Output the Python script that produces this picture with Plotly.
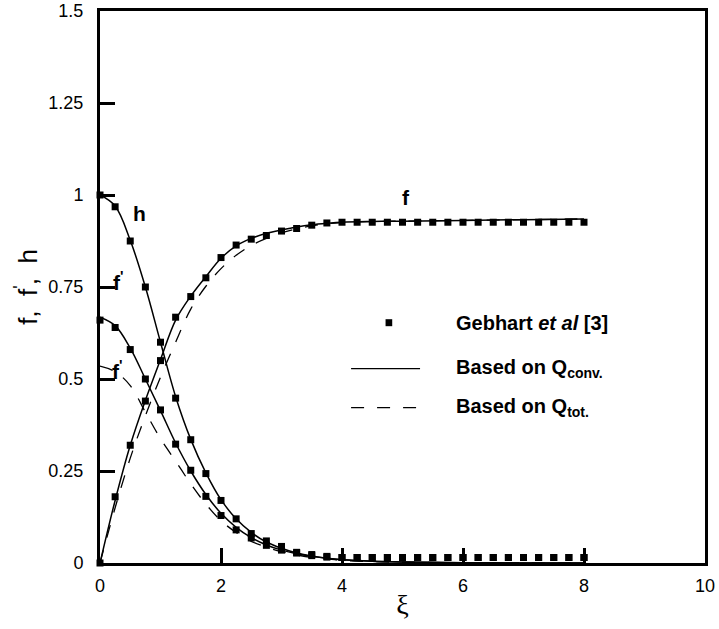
import plotly.graph_objects as go

# Gebhart et al. [3] data, sampled every 0.25 in xi
xi_exp = [i * 0.25 for i in range(33)]
f_exp = [0.0, 0.18, 0.32, 0.44, 0.55, 0.668, 0.724, 0.775, 0.83, 0.864, 0.88,
         0.89, 0.902, 0.909, 0.918, 0.924] + [0.926] * 17
fp_exp = [0.66, 0.64, 0.58, 0.50, 0.416, 0.323, 0.252, 0.181, 0.129, 0.09, 0.068,
          0.048, 0.035, 0.027, 0.02, 0.016] + [0.015] * 17
h_exp = [1.0, 0.968, 0.875, 0.75, 0.6, 0.448, 0.335, 0.243, 0.17, 0.12, 0.08,
         0.06, 0.045, 0.029, 0.023, 0.018] + [0.015] * 17

# Model solutions
xi_mod = [0, 0.25, 0.5, 0.75, 1.0, 1.25, 1.5, 1.75, 2.0, 2.25, 2.5, 2.75, 3.0,
          3.25, 3.5, 3.75, 4.0, 4.5, 5.0, 6.0, 7.0, 8.0]
# based on Q_conv.
f_conv = [0.0, 0.17, 0.32, 0.442, 0.553, 0.66, 0.725, 0.778, 0.828, 0.862, 0.882,
          0.896, 0.905, 0.913, 0.919, 0.923, 0.926, 0.928, 0.929, 0.931, 0.933, 0.935]
fp_conv = [0.668, 0.645, 0.584, 0.50, 0.414, 0.326, 0.25, 0.186, 0.135, 0.097, 0.069,
           0.049, 0.035, 0.025, 0.018, 0.013, 0.009, 0.005, 0.003, 0.001, 0.0, 0.0]
h_conv = [1.0, 0.97, 0.877, 0.75, 0.60, 0.452, 0.336, 0.245, 0.172, 0.12, 0.083,
          0.057, 0.04, 0.027, 0.019, 0.013, 0.009, 0.005, 0.003, 0.001, 0.0, 0.0]
# based on Q_tot.
f_tot = [0.0, 0.15, 0.285, 0.40, 0.505, 0.60, 0.69, 0.752, 0.80, 0.836, 0.863,
         0.882, 0.897, 0.908, 0.916, 0.922, 0.925, 0.928, 0.929, 0.931, 0.933, 0.935]
fp_tot = [0.535, 0.52, 0.482, 0.41, 0.338, 0.277, 0.215, 0.16, 0.115, 0.083, 0.059,
          0.043, 0.031, 0.022, 0.015, 0.011, 0.007, 0.004, 0.002, 0.001, 0.0, 0.0]

x_ticks = [0, 2, 4, 6, 8, 10]
y_ticks = [0, 0.25, 0.5, 0.75, 1.0, 1.25, 1.5]
y_ticktext = ["0", "0.25", "0.5", "0.75", "1", "1.25", "1.5"]

SANS = "Liberation Sans, Arial, sans-serif"
DASH = "13px,13px"

fig = go.Figure()

for y in (f_conv, fp_conv, h_conv):
    fig.add_trace(go.Scatter(x=xi_mod, y=y, mode="lines", line_shape="spline",
                             line=dict(color="black", width=1.5),
                             showlegend=False, cliponaxis=False))
for y in (f_tot, fp_tot):
    fig.add_trace(go.Scatter(x=xi_mod, y=y, mode="lines", line_shape="spline",
                             line=dict(color="black", width=1.3, dash=DASH),
                             showlegend=False, cliponaxis=False))
for y in (f_exp, fp_exp, h_exp):
    fig.add_trace(go.Scatter(x=xi_exp, y=y, mode="markers",
                             marker=dict(symbol="square", size=7, color="black"),
                             showlegend=False, cliponaxis=False))

# Curve labels
curve_labels = [
    (0.66, 0.951, "h"),
    (0.31, 0.765, "f<sup>'</sup>"),
    (0.29, 0.525, "f<sup>'</sup>"),
    (5.06, 0.993, "f"),
]
for x, y, t in curve_labels:
    fig.add_annotation(x=x, y=y, text="<b>%s</b>" % t, showarrow=False,
                       font=dict(family=SANS, size=21, color="black"))

# Legend block
leg_x0, leg_x1 = 4.15, 5.29
leg_rows = [0.653, 0.528, 0.422]
fig.add_shape(type="rect", x0=4.72, x1=4.83, y0=leg_rows[0] - 0.0095,
              y1=leg_rows[0] + 0.0095, fillcolor="black", line_width=0)
fig.add_shape(type="line", x0=leg_x0, x1=leg_x1, y0=leg_rows[1], y1=leg_rows[1],
              line=dict(color="black", width=1.2))
fig.add_shape(type="line", x0=leg_x0, x1=leg_x1, y0=leg_rows[2], y1=leg_rows[2],
              line=dict(color="black", width=1.2, dash=DASH))
leg_texts = ["<b>Gebhart <i>et al</i> [3]</b>",
             "<b>Based on Q<sub>conv.</sub></b>",
             "<b>Based on Q<sub>tot.</sub></b>"]
for yv, t in zip(leg_rows, leg_texts):
    fig.add_annotation(x=5.85, y=yv, text=t, showarrow=False, xanchor="left",
                       font=dict(family=SANS, size=20, color="black"))

axis_common = dict(showline=True, linewidth=3, linecolor="black", mirror=True,
                   ticks="inside", ticklen=15, tickwidth=3, tickcolor="black",
                   showgrid=False, zeroline=False, automargin=False,
                   tickfont=dict(family=SANS, size=18, color="black"))

fig.update_layout(
    width=719, height=629,
    margin=dict(l=100, r=14, t=11, b=66),
    plot_bgcolor="white", paper_bgcolor="white",
    xaxis=dict(range=[0, 10], tickvals=x_ticks, ticklabelstandoff=4,
               title=dict(text="ξ", standoff=0,
                          font=dict(family="Liberation Serif, Times New Roman, serif",
                                    size=28, color="black")),
               **axis_common),
    yaxis=dict(range=[0, 1.5], tickvals=y_ticks, ticktext=y_ticktext,
               ticklabelstandoff=10,
               title=dict(text="f,  f<sup>'</sup>,  h", standoff=4,
                          font=dict(family=SANS, size=26, color="black")),
               **axis_common),
)

fig.write_html("out.html")
